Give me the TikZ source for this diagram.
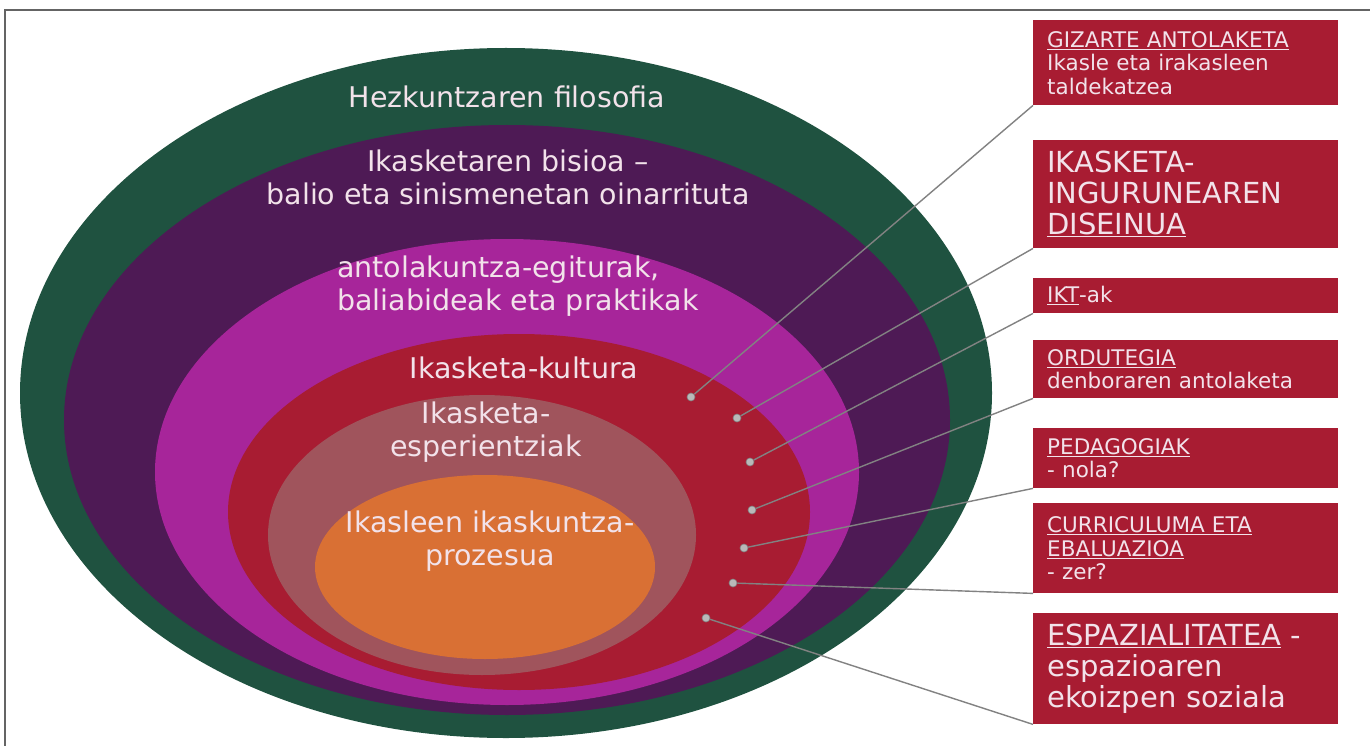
\documentclass[tikz,border=0pt]{standalone}
\usepackage{fontspec}
\setmainfont{DejaVu Sans}
\usetikzlibrary{shapes.geometric}
\definecolor{cgreen}{RGB}{31,82,64}
\definecolor{cpurple}{RGB}{78,26,85}
\definecolor{cmagenta}{RGB}{167,37,154}
\definecolor{cred}{RGB}{168,28,50}
\definecolor{crose}{RGB}{160,84,92}
\definecolor{corange}{RGB}{217,112,52}
\definecolor{ctxt}{RGB}{242,226,234}
\definecolor{cline}{RGB}{130,130,130}
\definecolor{cdot}{RGB}{185,185,185}
\definecolor{cframe}{RGB}{100,100,100}
\begin{document}
\begin{tikzpicture}[x=1pt,y=-1pt,
  ell/.style={ellipse, draw=none, inner sep=0pt, outer sep=0pt},
  etext/.style={text=ctxt, font=\fontsize{28.5}{33}\selectfont, inner sep=0pt, align=center},
  box/.style={anchor=north west, fill=cred, draw=none, minimum width=305pt, text width=277pt,
    inner xsep=14pt, inner ysep=0pt, align=left, text=ctxt},
  small/.style={font=\fontsize{21.5}{23.5}\selectfont},
  big/.style={font=\fontsize{29}{31}\selectfont},
  dotnode/.style={circle, fill=cdot, draw=cline, line width=0.6pt, minimum size=8pt, inner sep=0pt},
  conn/.style={draw=cline, line width=1.4pt}
]
\useasboundingbox (0,0) rectangle (1370,746);
\fill[white] (0,0) rectangle (1370,746);
\draw[cframe, line width=2pt] (5,746) -- (5,10) -- (1370,10);

% nested ellipses
\node[ell, fill=cgreen,   minimum width=972pt, minimum height=690pt] (e1) at (506,393) {};
\node[ell, fill=cpurple,  minimum width=886pt, minimum height=590pt] (e2) at (507,420) {};
\node[ell, fill=cmagenta, minimum width=704pt, minimum height=466pt] (e3) at (507,472) {};
\node[ell, fill=cred,     minimum width=582pt, minimum height=356pt] (e4) at (519,512) {};
\node[ell, fill=crose,    minimum width=428pt, minimum height=280pt] (e5) at (482,535) {};
\node[ell, fill=corange,  minimum width=340pt, minimum height=184pt] (e6) at (485,567) {};

% ellipse labels
\node[etext] (t1) at (507,97) {Hezkuntzaren filosofia};
\node[etext] (t2) at (508,177) {Ikasketaren bisioa –\\balio eta sinismenetan oinarrituta};
\node[etext, anchor=west, align=left] (t3) at (337,286) {antolakuntza-egiturak,\\baliabideak eta praktikak};
\node[etext] (t4) at (524,368) {Ikasketa-kultura};
\node[etext] (t5) at (486,432) {Ikasketa-\\esperientziak};
\node[etext] (t6) at (490,541) {Ikasleen ikaskuntza-\\prozesua};

% boxes
\node[box, small, minimum height=85pt] (b1) at (1033,20)
  {\underline{GIZARTE ANTOLAKETA}\\Ikasle eta irakasleen\\taldekatzea};
\node[box, big, minimum height=108pt] (b2) at (1033,140)
  {IKASKETA-\\INGURUNEAREN\\\underline{DISEINUA}};
\node[box, small, minimum height=35pt] (b3) at (1033,278)
  {\underline{IKT}-ak};
\node[box, small, minimum height=58pt] (b4) at (1033,340)
  {\underline{ORDUTEGIA}\\denboraren antolaketa};
\node[box, small, minimum height=60pt] (b5) at (1033,428)
  {\underline{PEDAGOGIAK}\\- nola?};
\node[box, small, minimum height=90pt] (b6) at (1033,503)
  {\underline{CURRICULUMA ETA}\\\underline{EBALUAZIOA}\\- zer?};
\node[box, big, minimum height=111pt] (b7) at (1033,613)
  {\underline{ESPAZIALITATEA} -\\espazioaren\\ekoizpen soziala};

% dots
\node[dotnode] (d1) at (691,397) {};
\node[dotnode] (d2) at (737,418) {};
\node[dotnode] (d3) at (750,462) {};
\node[dotnode] (d4) at (752,510) {};
\node[dotnode] (d5) at (744,548) {};
\node[dotnode] (d6) at (733,583) {};
\node[dotnode] (d7) at (706,618) {};

% connectors
\draw[conn] (d1) -- (b1.south west);
\draw[conn] (d2) -- (b2.south west);
\draw[conn] (d3) -- (b3.south west);
\draw[conn] (d4) -- (b4.south west);
\draw[conn] (d5) -- (b5.south west);
\draw[conn] (d6) -- (b6.south west);
\draw[conn] (d7) -- (b7.south west);
\end{tikzpicture}
\end{document}
